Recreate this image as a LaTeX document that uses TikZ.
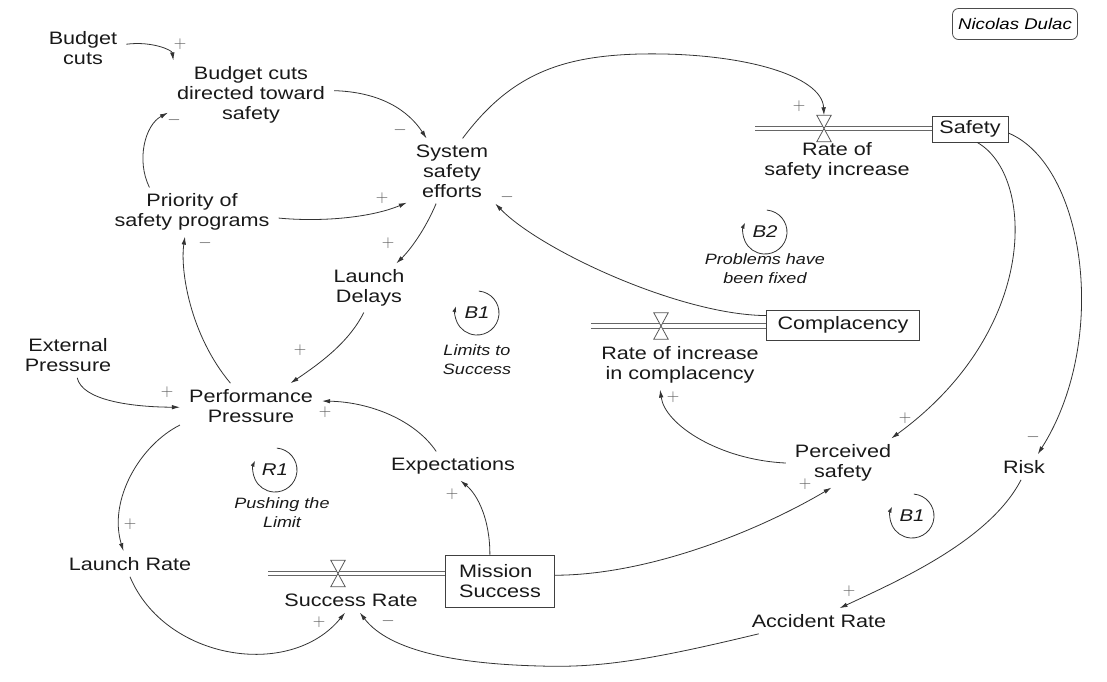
\documentclass[tikz,border=0pt]{standalone}
\usepackage{fontspec}
\setmainfont{Liberation Sans}[FakeStretch=1.2]
\usetikzlibrary{arrows.meta,calc}
\newcommand{\fsmain}{\fontsize{18}{20}\selectfont}
\newcommand{\fsloop}{\fontsize{15}{19}\selectfont\itshape}
\newcommand{\fsloopid}{\fontsize{17}{19}\selectfont\itshape}
\begin{document}
\begin{tikzpicture}[x=1pt,y=-1pt,
  var/.style={align=center, inner xsep=9pt, inner ysep=6pt, font=\fsmain, text=black!90},
  stock/.style={draw=black!75, line width=0.8pt, font=\fsmain, text=black!90, align=left, inner sep=0pt, fill=white},
  arr/.style={draw=black!80, line width=0.8pt, -{Latex[length=8pt,width=4.5pt]}},
  sgn/.style={text=black!65, font=\fontsize{18}{18}\selectfont, inner sep=0pt},
  pipe/.style={draw=black!60, line width=0.8pt, double=white, double distance=3.8pt},
  valveline/.style={draw=black!65, line width=0.8pt, fill=white},
  valve/.style={minimum width=14pt, minimum height=26pt, inner sep=0pt},
  looparr/.style={draw=black!80, line width=0.8pt, -{Latex[length=6pt,width=4pt]}},
  looplbl/.style={align=center, font=\fsloop, text=black!90, inner sep=0pt},
  loopid/.style={font=\fsloopid, text=black!90, inner sep=0pt},
  author/.style={draw=black!70, line width=0.8pt, rounded corners=6pt, minimum width=125pt, minimum height=31pt, inner sep=0pt, font=\fontsize{15.5}{18}\selectfont\itshape}
]
\useasboundingbox (0,0) rectangle (1107,681);

% stocks and pipes
\node[stock, minimum width=76pt, minimum height=26pt] (safety) at (970,129) {Safety};
\node[stock, minimum width=153pt, minimum height=30pt] (comp) at (843,325) {Complacency};
\node[stock, minimum width=109pt, minimum height=52pt] (ms) at (500,581) {Mission\\Success};
\coordinate (p1) at (755,128.5);
\coordinate (p2) at (591,326);
\coordinate (p3) at (268,573.5);
\draw[pipe] (p1) -- (p1 -| safety.west);
\draw[pipe] (p2) -- (p2 -| comp.west);
\draw[pipe] (p3) -- (p3 -| ms.west);
\node[valve] (v1) at (824,128.5) {};
\node[valve] (v2) at (661,326) {};
\node[valve] (v3) at (338,573.5) {};
\foreach \v in {v1,v2,v3}{
  \draw[valveline] (\v.north west) -- (\v.north east) -- (\v.center) -- cycle;
  \draw[valveline] (\v.south west) -- (\v.south east) -- (\v.center) -- cycle;
}

% variables
\node[author] (auth) at (1015,24) {Nicolas Dulac};
\node[var] (bc) at (83,48) {Budget\\cuts};
\node[var] (bcd) at (251,95) {Budget cuts\\directed toward\\safety};
\node[var] (pri) at (192,212) {Priority of\\safety programs};
\node[var] (sse) at (452,171) {System\\safety\\efforts};
\node[var] (ld) at (369,288) {Launch\\Delays};
\node[var] (ext) at (68,355) {External\\Pressure};
\node[var] (pp) at (251,406) {Performance\\Pressure};
\node[var] (exp) at (453,466) {Expectations};
\node[var] (lr) at (130,564) {Launch Rate};
\node[var] (sr) at (351,600) {Success Rate};
\node[var] (acc) at (819,621) {Accident Rate};
\node[var] (ps) at (843,463) {Perceived\\safety};
\node[var] (risk) at (1024,467) {Risk};
\node[var] (rci) at (680,365) {Rate of increase\\in complacency};
\node[var] (rsi) at (837,161) {Rate of\\safety increase};

% connectors
\draw[arr] (bc.5) .. controls (152,41) and (172,50) .. (bcd.156);
\draw[arr] (pri.150) .. controls (136,160) and (145,125) .. (bcd.192);
\draw[arr] (bcd.3) .. controls (380,92) and (408,110) .. (sse.128);
\draw[arr] (pri.356) .. controls (320,222) and (370,218) .. (sse.215);
\draw[arr] (sse.72) .. controls (510,75) and (560,56) .. (640,54) .. controls (740,52) and (822,75) .. (v1.north);
\draw[arr] (sse.244) .. controls (425,230) and (410,250) .. (ld.42);
\draw[arr] (ld.258) .. controls (350,340) and (325,360) .. (pp.30);
\draw[arr] (ext.292) .. controls (82,400) and (130,407) .. (pp.181);
\draw[arr] (pp.132) .. controls (190,335) and (180,270) .. (pri.254);
\draw[arr] (pp.195) .. controls (140,445) and (108,500) .. (lr.117);
\draw[arr] (exp.139) .. controls (415,420) and (370,402) .. (pp.4);
\draw[arr] (ms.111) .. controls (490,520) and (478,495) .. (exp.297);
\draw[arr] (lr.270) .. controls (165,660) and (290,680) .. (sr.245);
\draw[arr] (acc.192) .. controls (650,660) and (600,668) .. (540,666) .. controls (460,664) and (390,652) .. (sr.305);
\draw[arr] (ms.6) .. controls (650,575) and (760,530) .. (ps.245);
\draw[arr] (ps.180) .. controls (720,460) and (665,425) .. (rci.231);
\draw[arr] (comp.173) .. controls (680,315) and (540,250) .. (sse.323);
\draw[arr] (safety.298) .. controls (1035,175) and (1040,330) .. (ps.27);
\draw[arr] (safety.354) .. controls (1085,165) and (1110,340) .. (risk.43);
\draw[arr] (risk.257) .. controls (990,540) and (900,580) .. (acc.32);

% polarity signs
\node[sgn] (s1) at (180,44) {$+$};
\node[sgn] (s2) at (174,120) {$-$};
\node[sgn] (s3) at (400,130) {$-$};
\node[sgn] (s4) at (382,198) {$+$};
\node[sgn] (s5) at (799,106) {$+$};
\node[sgn] (s6) at (507,197) {$-$};
\node[sgn] (s7) at (388,243) {$+$};
\node[sgn] (s8) at (300,350) {$+$};
\node[sgn] (s9) at (167,392) {$+$};
\node[sgn] (s10) at (205,243) {$-$};
\node[sgn] (s11) at (130,524) {$+$};
\node[sgn] (s12) at (325,412) {$+$};
\node[sgn] (s13) at (452,494) {$+$};
\node[sgn] (s14) at (319,622) {$+$};
\node[sgn] (s15) at (388,621) {$-$};
\node[sgn] (s16) at (805,484) {$+$};
\node[sgn] (s17) at (673,397) {$+$};
\node[sgn] (s18) at (905,418) {$+$};
\node[sgn] (s19) at (1033,437) {$-$};
\node[sgn] (s20) at (849,591) {$+$};

% loop markers
\node[loopid] (lB1) at (477,313) {B1};
\draw[looparr] (lB1) ++(85:22pt) arc[start angle=85, end angle=-198, radius=22pt];
\node[looplbl] (tB1) at (477,360) {Limits to\\Success};
\node[loopid] (lB2) at (765,232) {B2};
\draw[looparr] (lB2) ++(85:22pt) arc[start angle=85, end angle=-205, radius=22pt];
\node[looplbl] (tB2) at (765,269) {Problems have\\been fixed};
\node[loopid] (lR1) at (275,470) {R1};
\draw[looparr] (lR1) ++(85:22pt) arc[start angle=85, end angle=-205, radius=22pt];
\node[looplbl] (tR1) at (282,513) {Pushing the\\Limit};
\node[loopid] (lB3) at (912,516) {B1};
\draw[looparr] (lB3) ++(85:22pt) arc[start angle=85, end angle=-205, radius=22pt];
\end{tikzpicture}
\end{document}
